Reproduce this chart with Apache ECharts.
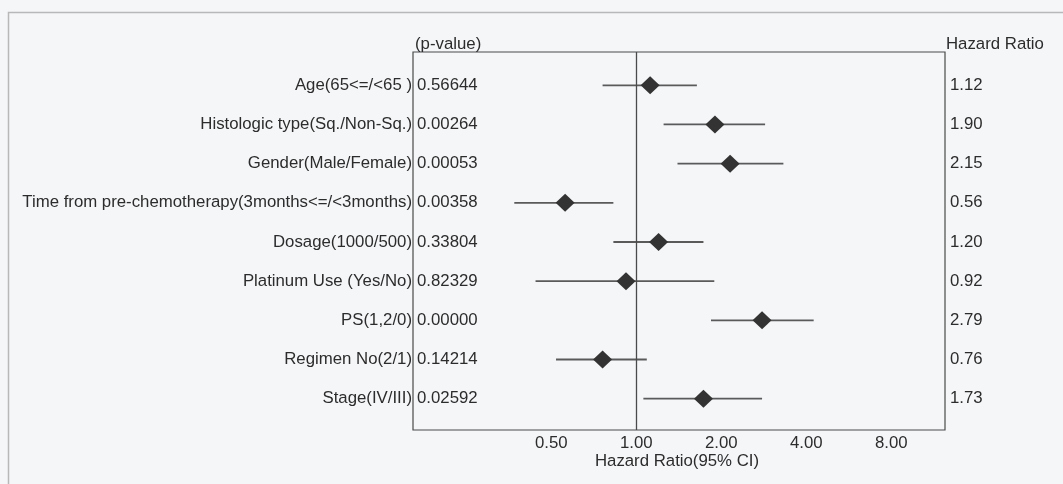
<!DOCTYPE html>
<html>
<head>
<meta charset="utf-8">
<script src="https://cdn.jsdelivr.net/npm/echarts@6/dist/echarts.min.js"></script>
<style>
html,body{margin:0;padding:0;background:#f5f6f8;}
#chart{width:1063px;height:484px;}
</style>
</head>
<body>
<div id="chart"></div>
<script>
// ---- data ----
const categories = [
  'Age(65<=/<65 )',
  'Histologic type(Sq./Non-Sq.)',
  'Gender(Male/Female)',
  'Time from pre-chemotherapy(3months<=/<3months)',
  'Dosage(1000/500)',
  'Platinum Use (Yes/No)',
  'PS(1,2/0)',
  'Regimen No(2/1)',
  'Stage(IV/III)'
];
const pValues = ['0.56644','0.00264','0.00053','0.00358','0.33804','0.82329','0.00000','0.14214','0.02592'];
const hazardRatio = [1.12, 1.90, 2.15, 0.56, 1.20, 0.92, 2.79, 0.76, 1.73];
const ciLower = [0.76, 1.25, 1.40, 0.37, 0.83, 0.44, 1.84, 0.52, 1.06];
const ciUpper = [1.64, 2.86, 3.32, 0.83, 1.73, 1.89, 4.25, 1.09, 2.79];
const hrLabels = ['1.12','1.90','2.15','0.56','1.20','0.92','2.79','0.76','1.73'];
const tickLabels = ['0.50','1.00','2.00','4.00','8.00'];
const xAxisTitle = 'Hazard Ratio(95% CI)';

const X_MIN = 0.162, X_MAX = 12.4, Y_MIN = 0.15, Y_MAX = 9.8;
const FONT = 'Liberation Sans, Arial, sans-serif';
const FS = 16.8;
const TXT = '#2c2c2c';

const rows = categories.map((c, i) => i + 1);

const chart = echarts.init(document.getElementById('chart'), null, {renderer: 'canvas'});

function textSeries(xVal, dx, align, labels) {
  return {
    type: 'custom',
    coordinateSystem: 'cartesian2d',
    clip: false,
    silent: true,
    data: rows.map(r => [xVal, r]),
    encode: {x: 0, y: 1},
    renderItem: function (params, api) {
      const p = api.coord([api.value(0), api.value(1)]);
      return {
        type: 'text',
        x: p[0] + dx,
        y: p[1],
        style: {
          text: labels[params.dataIndex],
          fill: TXT,
          font: FS + 'px ' + FONT,
          align: align,
          verticalAlign: 'middle'
        }
      };
    },
    z: 5
  };
}

function headerSeries(xVal, yVal, dx, dy, align, text) {
  return {
    type: 'custom',
    coordinateSystem: 'cartesian2d',
    clip: false,
    silent: true,
    data: [[xVal, yVal]],
    encode: {x: 0, y: 1},
    renderItem: function (params, api) {
      const p = api.coord([api.value(0), api.value(1)]);
      return {
        type: 'text',
        x: p[0] + dx,
        y: p[1] + dy,
        style: {
          text: text,
          fill: TXT,
          font: FS + 'px ' + FONT,
          align: align,
          verticalAlign: 'middle'
        }
      };
    },
    z: 5
  };
}

const option = {
  backgroundColor: '#f5f6f8',
  animation: false,
  graphic: [{
    type: 'rect',
    shape: {x: 8.5, y: 12.5, width: 1100, height: 520},
    style: {fill: 'none', stroke: '#b8b8b8', lineWidth: 1.5},
    silent: true,
    z: -1
  }],
  grid: {
    left: 413, right: 118, top: 52, bottom: 54,
    show: true, borderColor: '#4a4a4a', borderWidth: 1.2,
    backgroundColor: 'transparent'
  },
  xAxis: {
    type: 'log',
    logBase: 2,
    min: X_MIN,
    max: X_MAX,
    splitNumber: 6,
    axisLine: {show: false},
    axisTick: {show: false},
    splitLine: {show: false},
    axisLabel: {
      color: TXT, fontSize: FS, fontFamily: FONT, margin: 5,
      showMinLabel: false, showMaxLabel: false,
      formatter: function (v) {
        const s = (Math.round(v * 100) / 100).toFixed(2);
        return tickLabels.indexOf(s) >= 0 ? s : '';
      }
    }
  },
  yAxis: {
    type: 'value',
    inverse: true,
    min: Y_MIN,
    max: Y_MAX,
    show: false
  },
  series: [
    {
      type: 'custom',
      coordinateSystem: 'cartesian2d',
      silent: true,
      data: rows.map((r, i) => [ciLower[i], ciUpper[i], r]),
      encode: {x: [0, 1], y: 2},
      renderItem: function (params, api) {
        const a = api.coord([api.value(0), api.value(2)]);
        const b = api.coord([api.value(1), api.value(2)]);
        return {
          type: 'line',
          shape: {x1: a[0], y1: a[1], x2: b[0], y2: b[1]},
          style: {stroke: '#5a5a5a', lineWidth: 1.8}
        };
      },
      markLine: {
        silent: true,
        symbol: 'none',
        label: {show: false},
        lineStyle: {color: '#4a4a4a', width: 1.3, type: 'solid'},
        data: [{xAxis: 1}]
      },
      z: 2
    },
    {
      type: 'scatter',
      silent: true,
      symbol: 'diamond',
      symbolSize: [19, 18],
      itemStyle: {color: '#333333', opacity: 1},
      data: rows.map((r, i) => [hazardRatio[i], r]),
      z: 3
    },
    textSeries(X_MIN, -1, 'right', categories),
    textSeries(X_MIN, 4, 'left', pValues),
    textSeries(X_MAX, 5, 'left', hrLabels),
    headerSeries(X_MIN, Y_MIN, 2, -8, 'left', '(p-value)'),
    headerSeries(X_MAX, Y_MIN, 1, -8, 'left', 'Hazard Ratio'),
    headerSeries(Math.sqrt(X_MIN * X_MAX), Y_MAX, -2, 31, 'center', xAxisTitle)
  ]
};

chart.setOption(option);
</script>
</body>
</html>
